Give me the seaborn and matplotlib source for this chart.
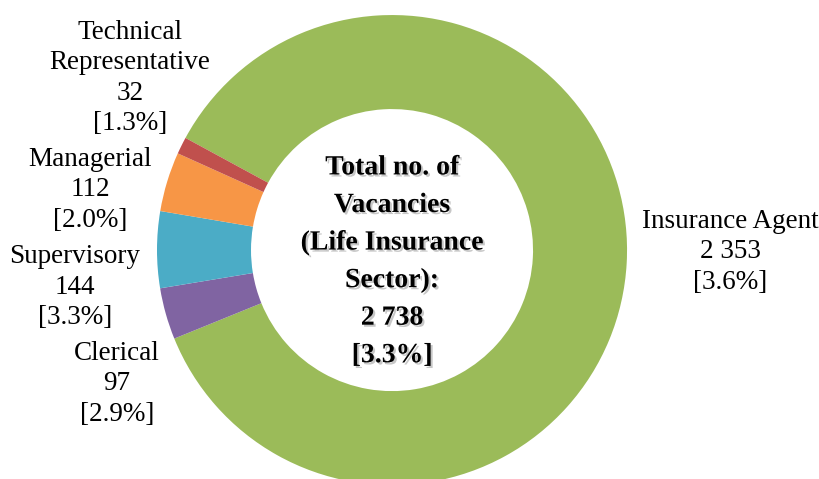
import matplotlib
matplotlib.use("Agg")
import matplotlib.pyplot as plt
import matplotlib.patheffects as pe
import seaborn as sns

# Data
categories = ["Insurance Agent", "Clerical", "Supervisory", "Managerial", "Technical\nRepresentative"]
vacancies = [2353, 97, 144, 112, 32]
vacancy_labels = ["2 353", "97", "144", "112", "32"]
rates = ["3.6%", "2.9%", "3.3%", "2.0%", "1.3%"]
total_label = "2 738"
total_rate = "3.3%"

colors = ["#9BBB59", "#8064A2", "#4BACC6", "#F79646", "#C0504D"]

sns.set_theme(style="white")
plt.rcParams["font.family"] = ["Liberation Serif", "DejaVu Serif"]

fig = plt.figure(figsize=(8.2, 4.79), dpi=100)
ax = fig.add_axes([0, 0, 1, 1])
wedges, _ = ax.pie(vacancies, colors=colors, startangle=151.5, counterclock=False,
                   radius=1.0, wedgeprops=dict(width=0.40, edgecolor="none"))
ax.set_xlim(-1.668, 1.821)
ax.set_ylim(-0.974, 1.064)
ax.set_aspect("auto")
ax.axis("off")

# label layout positions (figure pixel coords from top-left)
label_pos = [(730, 252), (117, 384), (75, 287), (90, 190), (130, 78)]
for cat, v, r, (px, py) in zip(categories, vacancy_labels, rates, label_pos):
    fig.text(px / 820, 1 - py / 479, f"{cat}\n{v}\n[{r}]", ha="center", va="center",
             fontsize=19.5, color="black", linespacing=1.27)

center_txt = f"Total no. of\nVacancies\n(Life Insurance\nSector):\n{total_label}\n[{total_rate}]"
ax.text(0, -0.05, center_txt, ha="center", va="center", fontsize=20, fontweight="bold",
        color="black", linespacing=1.66,
        path_effects=[pe.withSimplePatchShadow(offset=(1.5, -1.5), shadow_rgbFace="#909090", alpha=0.5)])

fig.savefig("out.png", dpi=100)
